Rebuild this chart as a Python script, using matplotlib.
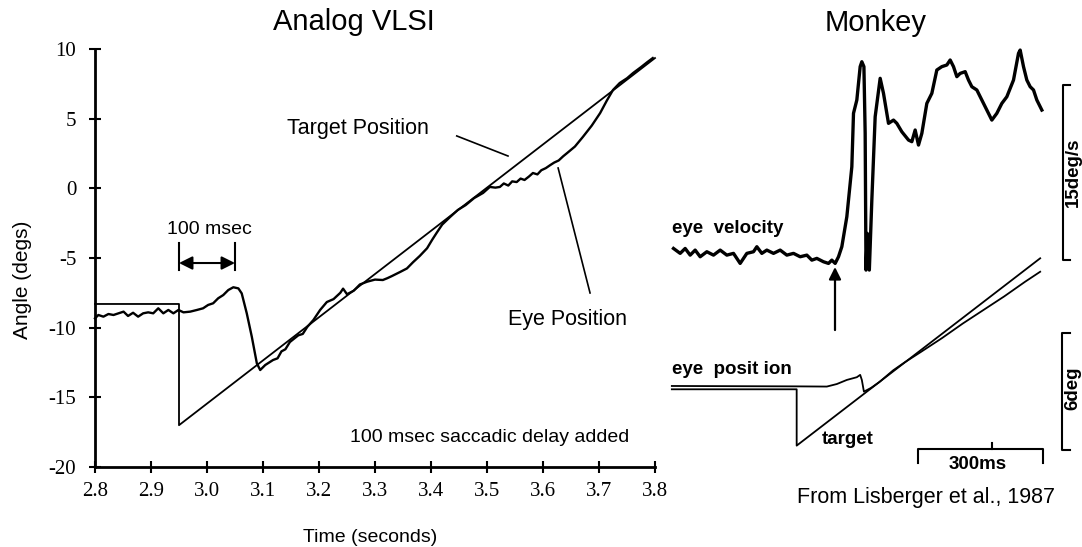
import matplotlib
matplotlib.use("Agg")
import matplotlib.pyplot as plt
import numpy as np

plt.rcParams['font.family'] = ['Liberation Sans', 'DejaVu Sans']

# ---- Analog VLSI panel (seconds, degrees) ----
target_t = [2.80, 2.95, 2.95, 3.80]
target_y = [-8.3, -8.3, -17.0, 9.35]

eye_t = [2.800, 2.806, 2.815, 2.824, 2.833, 2.842, 2.851, 2.859, 2.868, 2.877,
         2.886, 2.895, 2.904, 2.913, 2.922, 2.931, 2.940, 2.949, 2.958, 2.970,
         2.982, 2.993, 3.002, 3.011, 3.020, 3.029, 3.038, 3.047, 3.056, 3.062,
         3.071, 3.080, 3.089, 3.095, 3.104, 3.118, 3.126, 3.133, 3.140, 3.148,
         3.163, 3.171, 3.179, 3.190, 3.202, 3.214, 3.226, 3.238, 3.243, 3.250,
         3.262, 3.273, 3.286, 3.300, 3.314, 3.322, 3.330, 3.345, 3.357, 3.368,
         3.380, 3.393, 3.402, 3.410, 3.420, 3.434, 3.448, 3.462, 3.477, 3.493,
         3.505, 3.515, 3.523, 3.530, 3.538, 3.545, 3.553, 3.560, 3.567, 3.575,
         3.582, 3.590, 3.597, 3.605, 3.613, 3.620, 3.628, 3.636, 3.643, 3.657,
         3.671, 3.687, 3.702, 3.714, 3.725, 3.737, 3.750, 3.761, 3.775, 3.786,
         3.796]
eye_y = [-9.33, -9.09, -9.21, -9.02, -9.09, -8.97, -8.85, -9.16, -8.93, -9.21,
         -8.97, -8.90, -8.97, -8.61, -8.97, -8.73, -8.97, -8.73, -8.90, -8.85,
         -8.73, -8.61, -8.37, -8.25, -7.89, -7.66, -7.30, -7.10, -7.18, -7.54,
         -8.97, -10.65, -12.56, -13.04, -12.68, -12.32, -12.20, -11.70, -11.55, -11.03,
         -10.55, -10.45, -9.95, -9.45, -8.73, -8.16, -7.95, -7.50, -7.20, -7.60,
         -7.35, -6.90, -6.70, -6.55, -6.58, -6.45, -6.30, -6.00, -5.75, -5.30,
         -4.85, -4.30, -3.70, -3.20, -2.60, -2.06, -1.55, -1.20, -0.70, -0.33,
         0.10, 0.05, 0.10, 0.35, 0.20, 0.50, 0.45, 0.70, 0.60, 0.85,
         1.10, 1.00, 1.30, 1.45, 1.67, 1.85, 2.00, 2.30, 2.53, 3.00,
         3.68, 4.50, 5.40, 6.30, 7.06, 7.56, 7.90, 8.28, 8.70, 9.05,
         9.35]

x_ticks = [2.8, 2.9, 3.0, 3.1, 3.2, 3.3, 3.4, 3.5, 3.6, 3.7, 3.8]
y_ticks = [-20, -15, -10, -5, 0, 5, 10]

# ---- Monkey panel (ms from target step, deg/s and deg) ----
vel_t = [-294, -278, -266, -254, -242, -230, -214, -198, -182, -166, -150, -134,
         -118, -102, -94, -82, -70, -54, -38, -22, -6, 10, 26, 38, 50, 66, 78, 86,
         94, 102, 110, 122, 134, 138, 146, 154, 158, 163, 166, 168, 171, 176, 182,
         190, 202, 210, 222, 234, 242, 254, 270, 278, 286, 294, 302, 314, 326, 338,
         350, 362, 370, 378, 386, 394, 406, 414, 422, 434, 446, 458, 470, 482, 494,
         506, 522, 534, 538, 546, 554, 562, 570, 578, 590]
vel_v = [0.82, 0.40, 0.82, 0.25, 0.68, 0.11, 0.54, 0.25, 0.68, 0.25, 0.40, -0.46,
         0.40, 0.54, 0.97, 0.40, 0.68, 0.40, 0.68, 0.25, 0.40, 0.11, 0.25, -0.18,
         -0.03, -0.32, -0.46, -0.18, -0.46, 0.11, 0.97, 3.54, 7.82, 12.40, 13.54,
         16.40, 16.82, 16.40, 10.68, -1.03, 2.11, -1.03, 4.97, 12.11, 15.40, 14.11,
         11.54, 11.82, 11.54, 10.82, 10.11, 9.97, 10.97, 9.68, 10.68, 13.25, 14.11,
         16.11, 16.40, 16.54, 16.97, 16.40, 15.54, 15.82, 15.97, 15.25, 14.68, 14.40,
         13.54, 12.68, 11.82, 12.40, 13.25, 13.82, 15.25, 17.54, 17.82, 16.40, 15.25,
         14.68, 14.40, 13.54, 12.68]

mtarget_t = [-298, 1.6, 1.6, 586]
mtarget_p = [-0.12, -0.12, -3.01, 6.60]

meye_t = [-298, 1.6, 74, 98, 122, 146, 154, 158, 163, 180, 200, 233, 260, 300,
          350, 400, 450, 500, 550, 586]
meye_p = [0.05, 0.03, 0.02, 0.15, 0.36, 0.50, 0.62, 0.36, -0.24, -0.05, 0.25,
          0.85, 1.25, 1.80, 2.50, 3.25, 3.95, 4.65, 5.40, 5.91]

fig = plt.figure(figsize=(10.82, 5.47), dpi=100)

# left panel
ax = fig.add_axes([95 / 1082, 80 / 547, 560 / 1082, 418 / 547])
ax.plot(target_t, target_y, color='black', lw=1.3, clip_on=False)
ax.plot(eye_t, eye_y, color='black', lw=1.7, clip_on=False)
ax.set_xlim(2.8, 3.8)
ax.set_ylim(-20, 10)
ax.set_xticks(x_ticks)
ax.set_xticklabels([f'{v:.1f}' for v in x_ticks])
ax.set_yticks(y_ticks)
ax.set_yticklabels([str(v) for v in y_ticks])
for s in ['top', 'right']:
    ax.spines[s].set_visible(False)
for s in ['left', 'bottom']:
    ax.spines[s].set_linewidth(2.0)
ax.tick_params(direction='inout', length=9, width=1.5, labelsize=15)
ax.tick_params(axis='y', pad=9)
ax.tick_params(axis='x', pad=6)
for lab in ax.get_xticklabels() + ax.get_yticklabels():
    lab.set_fontfamily('Liberation Serif')

ax.text(3.27, 4.33, 'Target Position', ha='center', va='center', fontsize=15.5)
ax.plot([3.446, 3.5375], [3.76, 2.32], color='black', lw=1.2)
ax.text(3.643, -9.38, 'Eye Position', ha='center', va='center', fontsize=15.5)
ax.plot([3.627, 3.684], [1.46, -7.51], color='black', lw=1.2)
ax.text(3.004, -2.99, '100 msec', ha='center', va='center', fontsize=14)
ax.plot([2.95, 2.95], [-3.92, -5.86], color='black', lw=1.5)
ax.plot([3.05, 3.05], [-3.92, -5.86], color='black', lw=1.5)
ax.annotate('', xy=(3.05, -5.36), xytext=(2.95, -5.36),
            arrowprops=dict(arrowstyle='<|-|>', mutation_scale=20, lw=1.5,
                            color='black', shrinkA=0, shrinkB=0))
ax.text(3.504, -17.85, '100 msec saccadic delay added', ha='center',
        va='center', fontsize=14)

fig.text(354 / 1082, 1 - 22 / 547, 'Analog VLSI', ha='center', va='center',
         fontsize=21)
fig.text(23 / 1082, 1 - 280 / 547, 'Angle (degs)', rotation=90, ha='center',
         va='center', fontsize=15)
fig.text(370 / 1082, 1 - 537 / 547, 'Time (seconds)', ha='center',
         va='center', fontsize=14)

# right panel: velocity and position share the time axis
rect = [660 / 1082, 0, 422 / 1082, 1]
axv = fig.add_axes(rect)
axp = fig.add_axes(rect)
for a in (axv, axp):
    a.set_xlim(-326.4, 686.4)
    a.axis('off')
    a.patch.set_alpha(0)
axv.set_ylim(-24.76, 22.11)
axp.set_ylim(-8.21, 19.85)

axv.plot(vel_t, vel_v, color='black', lw=2.4)
axp.plot(mtarget_t, mtarget_p, color='black', lw=1.3)
axp.plot(meye_t, meye_p, color='black', lw=1.3)

bold = dict(fontweight='bold', fontsize=13.5)
axv.text(-297.6, 2.57, 'eye  velocity', ha='left', va='center', **bold)
axp.text(-297.6, 0.87, 'eye  posit ion', ha='left', va='center', **bold)
axp.text(62.4, -2.67, 'target', ha='left', va='center', **bold)

axv.annotate('', xy=(93.6, -0.77), xytext=(93.6, -6.17),
             arrowprops=dict(arrowstyle='-|>', mutation_scale=18, lw=1.6,
                             color='black', shrinkA=0, shrinkB=0))

# scale bars
axv.plot([657.6, 640.8, 640.8, 657.6], [14.82, 14.82, -0.17, -0.17],
         color='black', lw=1.5)
axv.text(664.8, 7.37, '15deg/s', rotation=90, ha='center', va='center', **bold)
axp.plot([657.6, 638.4, 638.4, 657.6], [2.77, 2.77, -3.23, -3.23],
         color='black', lw=1.5)
axp.text(664.8, -0.05, '6deg', rotation=90, ha='center', va='center', **bold)
axp.plot([292.8, 292.8, 592.8, 592.8], [-3.9, -3.18, -3.18, -3.9],
         color='black', lw=1.5)
axp.plot([470, 470], [-3.18, -2.87], color='black', lw=1.5)
axp.text(436.8, -4.0, '300ms', ha='center', va='center', **bold)

fig.text(876 / 1082, 1 - 23 / 547, 'Monkey', ha='center', va='center',
         fontsize=21)
fig.text(926 / 1082, 1 - 497 / 547, 'From Lisberger et al., 1987',
         ha='center', va='center', fontsize=15.5)

fig.savefig('out.png', dpi=100)
